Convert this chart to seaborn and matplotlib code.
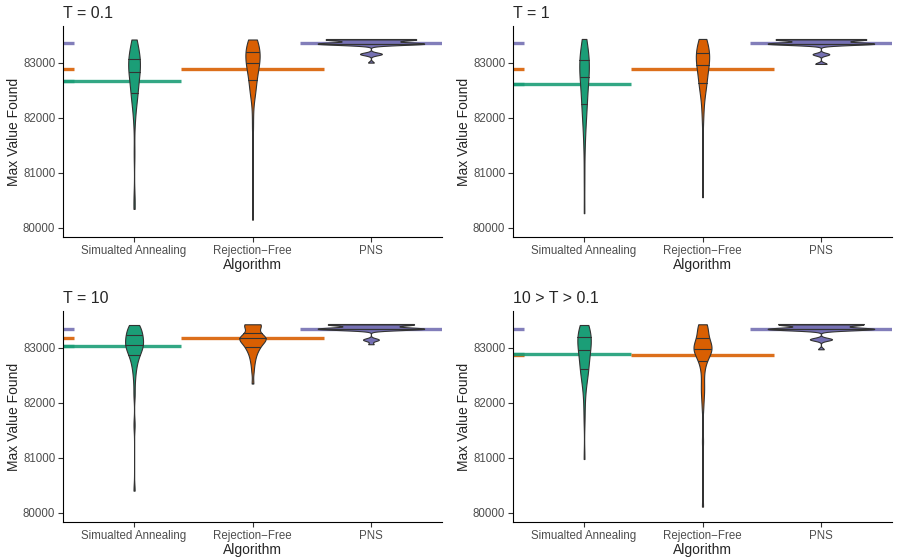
import numpy as np
import pandas as pd
import seaborn as sns
import matplotlib.pyplot as plt

algoritmos = ["Simualted Annealing", "Rejection\u2212Free", "PNS"]
titulos = ["T = 0.1", "T = 1", "T = 10", "10 > T > 0.1"]
cores = ["#1B9E77", "#D95F02", "#7570B3"]

# valores (max value found por execucao)
sa_t01 = [80345, 80520, 81350, 81900, 82080, 82200, 82280, 82350, 82400, 82430,
          82450, 82500, 82560, 82610, 82660, 82700, 82740, 82770, 82800, 82812,
          82830, 82870, 82900, 82930, 82960, 82990, 83010, 83030, 83050, 83067,
          83090, 83120, 83150, 83190, 83230, 83270, 83310, 83350, 83390, 83420]
rf_t01 = [80150, 81800, 82100, 82350, 82420, 82450, 82500, 82570, 82630, 82673,
          82700, 82740, 82780, 82820, 82860, 82890, 82920, 82945, 82965, 82982,
          83000, 83030, 83060, 83090, 83110, 83130, 83150, 83165, 83180, 83194,
          83220, 83250, 83280, 83310, 83340, 83370, 83400, 83420, 83420, 83420]
pns_t01 = [83000, 83150, 83156, 83160, 83166,
           83338, 83340, 83342, 83344, 83345, 83345, 83345, 83345, 83345, 83345,
           83345, 83345, 83345, 83345, 83345, 83346, 83348, 83350, 83352,
           83421, 83421, 83421, 83421, 83421, 83421, 83421, 83421,
           83421, 83421, 83421, 83421, 83421, 83421, 83421, 83421]

sa_t1 = [80267, 80900, 81400, 81650, 81800, 81920, 82020, 82100, 82170, 82220,
         82250, 82320, 82390, 82450, 82510, 82560, 82610, 82650, 82700, 82735,
         82750, 82790, 82830, 82870, 82900, 82930, 82960, 82990, 83020, 83040,
         83060, 83090, 83120, 83160, 83200, 83250, 83300, 83350, 83400, 83430]
rf_t1 = [80558, 81500, 81950, 82150, 82300, 82400, 82470, 82530, 82580, 82610,
         82640, 82680, 82720, 82760, 82800, 82840, 82880, 82910, 82940, 82960,
         82970, 83000, 83030, 83060, 83090, 83110, 83130, 83150, 83165, 83175,
         83190, 83220, 83250, 83290, 83330, 83370, 83400, 83430, 83430, 83430]
pns_t1 = [82976, 82980, 83148, 83152, 83158,
          83337, 83340, 83342, 83344, 83345, 83345, 83345, 83345, 83345, 83345,
          83345, 83345, 83345, 83345, 83345, 83346, 83348, 83350, 83353,
          83421, 83421, 83421, 83421, 83421, 83421, 83421, 83421,
          83421, 83421, 83421, 83421, 83421, 83421, 83421, 83421]

sa_t10 = [80404, 81600, 82150, 82400, 82550, 82640, 82700, 82760, 82810, 82845,
          82870, 82900, 82930, 82955, 82975, 82995, 83010, 83025, 83040, 83050,
          83060, 83080, 83100, 83120, 83140, 83160, 83180, 83200, 83215, 83228,
          83245, 83265, 83290, 83315, 83340, 83365, 83390, 83411, 83411, 83411]
rf_t10 = [82348, 82560, 82680, 82760, 82820, 82870, 82910, 82945, 82975, 82998,
          83015, 83035, 83055, 83075, 83095, 83110, 83125, 83140, 83155, 83168,
          83172, 83178, 83183, 83188, 83195, 83200, 83207, 83213, 83220, 83228,
          83365, 83385, 83400, 83410, 83418, 83424, 83424, 83424, 83424, 83424]
pns_t10 = [83062, 83140, 83145, 83150,
           83336, 83339, 83341, 83343, 83344, 83344, 83344, 83344, 83344, 83344,
           83344, 83344, 83344, 83344, 83344, 83344, 83345, 83347, 83349, 83352,
           83421, 83421, 83421, 83421, 83421, 83421, 83421, 83421,
           83421, 83421, 83421, 83421, 83421, 83421, 83421, 83421]

sa_mix = [80978, 81700, 82000, 82200, 82320, 82400, 82460, 82510, 82550, 82585,
          82620, 82660, 82700, 82740, 82780, 82820, 82860, 82890, 82920, 82950,
          82970, 83000, 83030, 83060, 83085, 83110, 83130, 83150, 83170, 83190,
          83210, 83235, 83260, 83290, 83320, 83350, 83380, 83411, 83411, 83411]
rf_mix = [80114, 81300, 81900, 82100, 82200, 82300, 82400, 82550, 82650, 82715,
          82760, 82810, 82850, 82880, 82905, 82925, 82940, 82952, 82962, 82970,
          82980, 82995, 83010, 83025, 83040, 83055, 83070, 83090, 83120, 83160,
          83190, 83230, 83270, 83310, 83350, 83380, 83405, 83424, 83424, 83424]
pns_mix = [82970, 83145, 83150, 83152, 83158,
           83332, 83335, 83337, 83339, 83340, 83340, 83340, 83340, 83340, 83340,
           83340, 83340, 83340, 83340, 83340, 83341, 83343, 83345, 83348,
           83421, 83421, 83421, 83421, 83421, 83421, 83421, 83421,
           83421, 83421, 83421, 83421, 83421, 83421, 83421]

# medias (linhas horizontais)
media_sa = [82665, 82612, 83036, 82880]
media_rf = [82885, 82891, 83181, 82868]
media_pns = [83355, 83351, 83344, 83333]

dados = [(sa_t01, rf_t01, pns_t01), (sa_t1, rf_t1, pns_t1),
         (sa_t10, rf_t10, pns_t10), (sa_mix, rf_mix, pns_mix)]

linhas = []
for titulo, grupos in zip(titulos, dados):
    for alg, valores in zip(algoritmos, grupos):
        for v in valores:
            linhas.append({"painel": titulo, "Algorithm": alg, "valor": v})
tabela = pd.DataFrame(linhas)


# largura de banda igual ao bw.nrd0 do R
def nrd0(kde):
    x = kde.dataset[0]
    sd = x.std(ddof=1)
    q75, q25 = np.percentile(x, [75, 25])
    lo = min(sd, (q75 - q25) / 1.34)
    if lo <= 0:
        lo = sd
    return 0.9 * lo * len(x) ** -0.2 / sd


sns.set_style("ticks")
plt.rcParams["font.family"] = ["Liberation Sans", "DejaVu Sans"]

fig = plt.figure(figsize=(8.97, 5.59), dpi=100)
W, H = 897, 559
posicoes = [(63, 26), (513, 26), (63, 311), (513, 311)]

for i, titulo in enumerate(titulos):
    x0, y0 = posicoes[i]
    ax = fig.add_axes([x0 / W, 1 - (y0 + 211) / H, 379 / W, 211 / H])
    sub = tabela[tabela["painel"] == titulo]
    sns.violinplot(data=sub, x="Algorithm", y="valor", hue="Algorithm",
                   order=algoritmos, hue_order=algoritmos, palette=cores,
                   legend=False, ax=ax, cut=0, inner="quart",
                   density_norm="area", common_norm=True, width=0.9,
                   saturation=1, linecolor="#333333", linewidth=0.8,
                   bw_method=nrd0, gridsize=400,
                   inner_kws=dict(color="#333333", linewidth=0.8))
    for ln in ax.lines:
        ln.set_linestyle("-")
        ln.set_color("#333333")

    # marcas na lateral esquerda + linhas das medias (por baixo dos violinos)
    medias = [media_sa[i], media_rf[i], media_pns[i]]
    for m, c in zip(medias, cores):
        ax.hlines(m, -0.6, -0.504, color=c, lw=2.4, alpha=0.9, zorder=0.9)
    for m, c, a, b in zip(medias, cores, [-0.6, 0.4, 1.4], [0.4, 1.6, 2.6]):
        ax.hlines(m, a, b, color=c, lw=2.4, alpha=0.9, zorder=0.9)

    ax.set_xlim(-0.6, 2.6)
    ax.set_ylim(79835, 83665)
    ax.set_yticks([80000, 81000, 82000, 83000])
    ax.set_title(titulo, loc="left", fontsize=11.5, pad=6)
    ax.set_xlabel("Algorithm", fontsize=10, labelpad=1)
    ax.set_ylabel("Max Value Found", fontsize=10, labelpad=1.5)
    ax.tick_params(labelsize=8.3, labelcolor="#4D4D4D", color="#333333",
                   length=3.5, width=0.8, pad=2)
    for lado in ["left", "bottom"]:
        ax.spines[lado].set_linewidth(0.8)
        ax.spines[lado].set_color("black")
    sns.despine(ax=ax)

fig.savefig("out.png", dpi=100)
